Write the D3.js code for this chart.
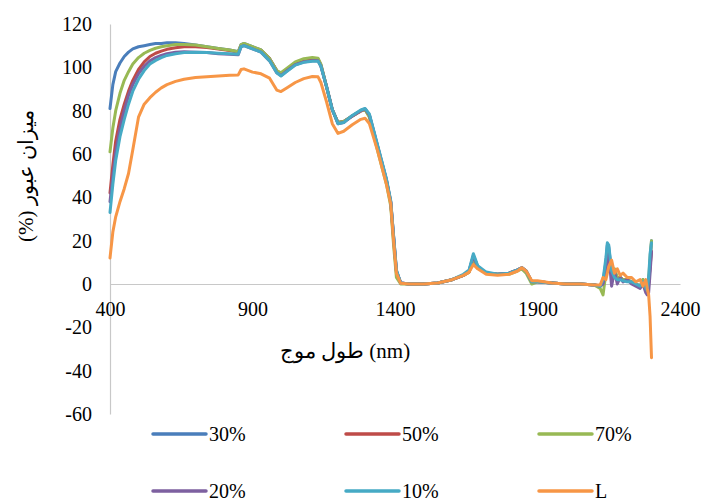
<!DOCTYPE html>
<html>
<head>
<meta charset="utf-8">
<script src="https://cdn.jsdelivr.net/npm/d3@7"></script>
<style>
  body { margin: 0; background: #fff; }
  svg text { font-family: "Liberation Serif", "Times New Roman", "DejaVu Serif", serif; fill: #000; }
</style>
</head>
<body>
<div id="chart"></div>
<script>
// wavelength (nm)
const wavelengths = [
  400,410,420,435,450,465,480,500,520,540,
  560,580,600,630,660,700,740,780,820,850,
  860,870,900,930,960,985,1000,1020,1050,1080,
  1110,1130,1140,1160,1180,1200,1220,1250,1280,1295,
  1310,1340,1370,1385,1395,1405,1420,1450,1500,1550,
  1600,1640,1660,1675,1690,1720,1760,1800,1830,1845,
  1860,1880,1900,1950,2000,2050,2100,2120,2130,2140,
  2145,2150,2160,2170,2180,2190,2200,2215,2230,2245,
  2260,2270,2280,2285,2290,2295,2300
];

const s30 = [
  81,92,98,102,105,107,108.5,109.5,110,110.5,
  111,111,111.3,111.3,111,110.3,109.5,108.7,108,107.2,
  110.5,111,109.5,108,104,98.5,97,99,102,103.5,
  104,103.8,101,91,80.5,74.5,75,77.5,80,80.8,
  78,63,48,38,22,6,0.5,0,0,0.5,
  2,4,6,13,8,5,4.5,5,6.5,7.5,
  6,1,1,0.5,0,0,-0.5,-0.8,1,10,
  18,17,5,6,3,3,2,2,1,0,
  -1,2,-1,-3,1,8,20
];
const s50 = [
  42,55,66,76,83,89,94,99,102.5,105,
  106.5,107.5,108.3,109,109.5,109.5,109.2,108.5,107.8,107,
  110,110.5,109.2,107.8,104,98.5,96.8,98.8,101.8,103.2,
  103.7,103.5,101,91,80.5,74.5,75,77.5,79.8,80.5,
  77.5,62.5,47.5,37.5,21,5.5,0.5,0,0,0.5,
  2,4,5.5,11.5,7.5,5,4.5,5,6.5,7.5,
  6,1,1,0.5,0,0,-0.5,-1,0.5,8,
  15,14,4,5,2,3,2,1.5,1,0,
  -1,1,-2,-3,0,8,15
];
const s70 = [
  61,72,80,88,94,98,101.5,104.5,106.5,107.8,
  108.8,109.5,110,110.5,110.5,110.3,109.5,108.7,108,107.2,
  110.5,111,109.5,108,104,98.5,97.5,99.5,102.5,104,
  104.5,104.2,101.5,91,80.5,74.5,75,77.5,80,80.5,
  77,61,46,36,18,3,0,0,0,0.5,
  2,4,5.5,11,7.5,5,4.5,4.5,6,7,
  5,0,1,0.5,0,0,-0.5,-2,-5,5,
  14,15,5,7,3,3,2,2,1,0,
  -1,2,-1,-2,2,12,20
];
const s20 = [
  38,50,61,72,80,87,92,97,100.5,103,
  104.5,105.5,106.3,107,107.2,107,106.8,106.3,106,105.8,
  109.5,110,108.5,107,103,97.5,96.2,98.3,101.2,102.5,
  103,103,100.5,91,80.5,74,74.5,77.5,80,80.8,
  78,63,48,38,22,6,0.5,0,0,0.5,
  2,4,6,13,8,5,4.5,5,6.5,7.5,
  6,1,1,0.5,0,0,-0.5,-1,0,6,
  12,14,-1,6,0,3,1,2,0,-1,
  -2,0,-4,-5,-4,5,15
];
const s10 = [
  33,46,57,68,76,83,89,94.5,98.5,101.5,
  103.2,104.5,105.5,106.3,106.8,107,106.8,106.5,106.3,106,
  109.5,110,108.5,107,103,97.5,96,98,101,102.3,
  102.8,102.8,100.5,91,80.5,74,74.5,77.8,80.3,81,
  78.5,63.5,48.5,38.5,22.5,6.5,0.5,0,0,0.5,
  2,4.5,6.5,14,8.5,5.5,4.5,5,6.5,7.5,
  6,1,1,0.5,0,0,-0.5,-1,2,12,
  19,18,6,3,2,2,1.5,1,1,0,
  -1,1,-2,-3,3,14,19
];
const sL = [
  12,24,31,38,44,51,62,77,83,86,
  88.5,90.5,92,93.5,94.5,95.3,95.7,96,96.3,96.5,
  99,99.3,97.8,97,95,89.5,88.8,90.5,93,94.8,
  95.8,95.6,93,84,74,69.5,70.5,73.5,76,76.5,
  74,61,46,37,20,5,0.3,0,0,0.5,
  2,4,5.5,9,7,4.5,4,4.5,6,7.5,
  6,1.5,1.5,0.5,0,0,-0.5,-0.5,3,2,
  5,8,11,5,7,4,5,3,3,1,
  2,-1,2,-2,-5,-15,-34
];

const seriesNames = ["30%", "50%", "70%", "20%", "10%", "L"];
const seriesValues = [s30, s50, s70, s20, s10, sL];
const seriesColors = ["#4A7EBB", "#BE4B48", "#98B954", "#7D60A0", "#46AAC5", "#F79646"];
const xTicks = [400, 900, 1400, 1900, 2400];
const yTicks = [-60, -40, -20, 0, 20, 40, 60, 80, 100, 120];
const xTitle = "طول موج  (nm)";
const yTitle = "(%) میزان عبور";

const width = 702, height = 502;
const fontFam = "'Liberation Serif', 'Times New Roman', 'DejaVu Serif', serif";
const svg = d3.select("#chart").append("svg")
  .attr("width", width)
  .attr("height", height)
  .attr("font-family", fontFam);

const x = d3.scaleLinear().domain([400, 2400]).range([110, 680]);
const y = d3.scaleLinear().domain([-60, 120]).range([414, 24]);
const plain = d => String(d);

// y axis
const yAxis = svg.append("g")
  .attr("transform", `translate(${x(400)},0)`)
  .call(d3.axisLeft(y).tickValues(yTicks).tickFormat(plain).tickSize(0).tickPadding(18));
yAxis.attr("font-family", fontFam);
yAxis.select(".domain").attr("stroke", "#C8C8C8").attr("stroke-width", 1.2);
yAxis.selectAll("text").style("font-size", "20px");

// x axis at y = 0
const xAxis = svg.append("g")
  .attr("transform", `translate(0,${y(0)})`)
  .call(d3.axisBottom(x).tickValues(xTicks).tickFormat(plain).tickSize(0).tickPadding(0));
xAxis.attr("font-family", fontFam);
xAxis.select(".domain").attr("stroke", "#C8C8C8").attr("stroke-width", 1.2);
xAxis.selectAll("text")
  .attr("y", 25).attr("dy", "0.35em")
  .style("font-size", "20px");

// lines
const line = d3.line()
  .x((d, i) => x(wavelengths[i]))
  .y(d => y(d));

svg.append("g").selectAll("path")
  .data(seriesValues)
  .join("path")
  .attr("d", d => line(d))
  .attr("fill", "none")
  .attr("stroke", (d, i) => seriesColors[i])
  .attr("stroke-width", 3)
  .attr("stroke-linejoin", "round")
  .attr("stroke-linecap", "round");

// axis titles
svg.append("text")
  .attr("x", 345).attr("y", 358)
  .attr("text-anchor", "middle")
  .style("font-size", "21px")
  .text(xTitle);

svg.append("text")
  .attr("transform", "translate(33,176) rotate(-90)")
  .attr("text-anchor", "middle")
  .style("font-size", "21px")
  .text(yTitle);

// legend
const legend = svg.append("g");
const item = legend.selectAll("g")
  .data(seriesNames)
  .join("g")
  .attr("transform", (d, i) => `translate(${153 + (i % 3) * 193},${434 + Math.floor(i / 3) * 57})`);

item.append("line")
  .attr("x1", 0).attr("x2", 53)
  .attr("stroke", (d, i) => seriesColors[i])
  .attr("stroke-width", 3.5)
  .attr("stroke-linecap", "round");

item.append("text")
  .attr("x", 56).attr("dy", "0.35em")
  .style("font-size", "20px")
  .text(d => d);
</script>
</body>
</html>
